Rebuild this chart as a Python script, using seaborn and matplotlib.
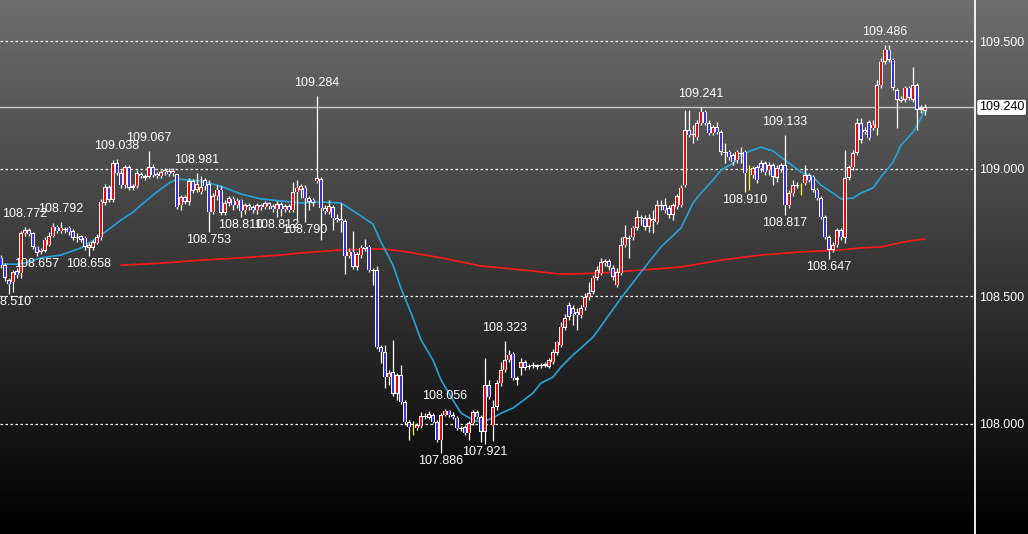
import matplotlib
matplotlib.use("Agg")
import matplotlib.pyplot as plt
from matplotlib.colors import LinearSegmentedColormap
import matplotlib.transforms as mtransforms
import seaborn as sns
import numpy as np
import pandas as pd

# candle data (USD/JPY style quotes), one entry per bar, oldest first
opens = [
    108.650, 108.621, 108.563, 108.555, 108.598, 108.590, 108.747, 108.759, 108.747, 108.693,
    108.673, 108.677, 108.700, 108.735, 108.771, 108.755, 108.763, 108.767, 108.755, 108.728,
    108.735, 108.728, 108.700, 108.689, 108.708, 108.731, 108.865, 108.927, 108.877, 109.021,
    108.982, 108.935, 109.006, 108.924, 108.931, 108.978, 108.970, 108.967, 109.006, 108.978,
    108.970, 108.986, 108.990, 108.982, 108.978, 108.857, 108.888, 108.869, 108.951, 108.916,
    108.908, 108.955, 108.939, 108.829, 108.892, 108.916, 108.826, 108.865, 108.881, 108.857,
    108.877, 108.837, 108.857, 108.849, 108.837, 108.857, 108.849, 108.865, 108.853, 108.841,
    108.861, 108.841, 108.853, 108.837, 108.908, 108.916, 108.924, 108.884, 108.877, 108.951,
    108.959, 108.845, 108.829, 108.849, 108.806, 108.802, 108.794, 108.657, 108.673, 108.614,
    108.661, 108.693, 108.693, 108.602, 108.602, 108.300, 108.280, 108.182, 108.202, 108.116,
    108.190, 108.084, 108.006, 107.990, 107.982, 107.990, 108.029, 108.022, 108.033, 108.006,
    107.935, 108.033, 108.050, 108.033, 108.022, 107.982, 107.986, 107.963, 108.002, 108.045,
    108.025, 107.967, 108.151, 107.994, 108.065, 108.159, 108.210, 108.249, 108.273, 108.178,
    108.218, 108.241, 108.222, 108.226, 108.229, 108.226, 108.226, 108.222, 108.241, 108.277,
    108.308, 108.375, 108.465, 108.453, 108.437, 108.425, 108.457, 108.496, 108.516, 108.571,
    108.590, 108.629, 108.637, 108.610, 108.543, 108.590, 108.700, 108.728, 108.731, 108.767,
    108.810, 108.806, 108.771, 108.794, 108.790, 108.857, 108.857, 108.845, 108.818, 108.849,
    108.857, 108.935, 109.151, 109.135, 109.123, 109.178, 109.222, 109.178, 109.139, 109.163,
    109.143, 109.065, 109.065, 109.053, 109.033, 109.061, 109.065, 108.963, 108.974, 109.006,
    109.021, 109.021, 108.994, 109.013, 108.963, 109.013, 109.013, 108.857, 108.904, 108.931,
    108.924, 108.943, 108.974, 108.967, 108.916, 108.884, 108.810, 108.731, 108.681, 108.700,
    108.759, 108.728, 108.963, 109.006, 109.061, 109.178, 109.143, 109.182, 109.159, 109.159,
    109.327, 109.418, 109.465, 109.426, 109.308, 109.273, 109.269, 109.316, 109.269, 109.327,
    109.230, 109.226,
]
closes = [
    108.621, 108.571, 108.547, 108.594, 108.582, 108.747, 108.759, 108.743, 108.693, 108.669,
    108.681, 108.720, 108.735, 108.771, 108.755, 108.767, 108.759, 108.751, 108.728, 108.731,
    108.720, 108.693, 108.689, 108.712, 108.731, 108.869, 108.927, 108.877, 109.021, 108.982,
    108.935, 109.006, 108.924, 108.931, 108.982, 108.970, 108.963, 109.006, 108.974, 108.970,
    108.986, 108.994, 108.978, 108.990, 108.849, 108.888, 108.869, 108.951, 108.912, 108.939,
    108.927, 108.931, 108.829, 108.892, 108.916, 108.826, 108.865, 108.884, 108.857, 108.873,
    108.833, 108.857, 108.849, 108.837, 108.857, 108.849, 108.865, 108.853, 108.841, 108.861,
    108.841, 108.853, 108.837, 108.908, 108.924, 108.931, 108.884, 108.869, 108.865, 108.963,
    108.845, 108.833, 108.853, 108.806, 108.798, 108.794, 108.657, 108.673, 108.614, 108.665,
    108.689, 108.685, 108.602, 108.598, 108.300, 108.280, 108.182, 108.198, 108.116, 108.190,
    108.084, 108.006, 107.986, 107.990, 107.994, 108.029, 108.025, 108.037, 108.006, 107.935,
    108.033, 108.050, 108.033, 108.025, 107.982, 107.978, 107.963, 108.002, 108.045, 108.025,
    107.967, 108.151, 108.104, 108.065, 108.159, 108.210, 108.249, 108.269, 108.178, 108.171,
    108.241, 108.218, 108.226, 108.229, 108.222, 108.229, 108.233, 108.249, 108.280, 108.320,
    108.379, 108.414, 108.418, 108.429, 108.425, 108.453, 108.496, 108.512, 108.571, 108.602,
    108.633, 108.637, 108.614, 108.575, 108.594, 108.700, 108.731, 108.724, 108.767, 108.810,
    108.806, 108.771, 108.806, 108.802, 108.857, 108.853, 108.837, 108.818, 108.857, 108.892,
    108.924, 109.151, 109.131, 109.131, 109.178, 109.222, 109.178, 109.139, 109.163, 109.143,
    109.065, 109.061, 109.045, 109.025, 109.065, 109.057, 108.982, 108.963, 109.002, 108.955,
    109.002, 108.986, 109.013, 108.967, 109.002, 108.998, 108.857, 108.904, 108.935, 108.935,
    108.924, 108.974, 108.955, 108.916, 108.884, 108.810, 108.731, 108.681, 108.700, 108.759,
    108.731, 108.963, 109.006, 109.061, 109.178, 109.112, 109.151, 109.119, 109.171, 109.327,
    109.418, 109.465, 109.426, 109.316, 109.269, 109.265, 109.316, 109.277, 109.327, 109.230,
    109.237, 109.240,
]
highs = [
    108.661, 108.629, 108.571, 108.602, 108.610, 108.755, 108.772, 108.767, 108.751, 108.697,
    108.689, 108.731, 108.751, 108.786, 108.778, 108.792, 108.771, 108.774, 108.763, 108.747,
    108.739, 108.735, 108.708, 108.720, 108.743, 108.881, 108.939, 108.935, 109.033, 109.038,
    108.994, 109.013, 109.013, 108.939, 108.994, 108.986, 108.978, 109.067, 109.017, 108.986,
    108.994, 109.002, 109.002, 109.002, 108.980, 108.896, 108.896, 108.963, 108.959, 108.981,
    108.970, 108.963, 108.955, 108.904, 108.935, 108.931, 108.877, 108.892, 108.892, 108.884,
    108.881, 108.865, 108.865, 108.857, 108.865, 108.861, 108.873, 108.869, 108.861, 108.873,
    108.869, 108.861, 108.861, 108.947, 108.955, 108.939, 108.935, 108.892, 108.884, 109.284,
    108.967, 108.857, 108.877, 108.857, 108.822, 108.865, 108.802, 108.689, 108.755, 108.673,
    108.700, 108.724, 108.700, 108.610, 108.618, 108.308, 108.308, 108.210, 108.328, 108.198,
    108.229, 108.092, 108.014, 108.010, 108.002, 108.045, 108.041, 108.049, 108.041, 108.014,
    108.041, 108.056, 108.052, 108.045, 108.029, 107.990, 107.994, 108.010, 108.053, 108.053,
    108.033, 108.257, 108.171, 108.092, 108.171, 108.241, 108.323, 108.288, 108.280, 108.186,
    108.257, 108.249, 108.233, 108.241, 108.233, 108.237, 108.241, 108.257, 108.292, 108.322,
    108.398, 108.429, 108.476, 108.465, 108.453, 108.465, 108.512, 108.555, 108.582, 108.618,
    108.649, 108.645, 108.645, 108.621, 108.610, 108.731, 108.778, 108.739, 108.774, 108.837,
    108.818, 108.818, 108.822, 108.837, 108.877, 108.877, 108.884, 108.857, 108.865, 108.900,
    108.935, 109.230, 109.230, 109.171, 109.190, 109.241, 109.230, 109.190, 109.171, 109.182,
    109.151, 109.100, 109.073, 109.061, 109.073, 109.084, 109.073, 109.013, 109.010, 109.013,
    109.033, 109.029, 109.025, 109.021, 109.013, 109.021, 109.133, 108.916, 108.955, 108.947,
    108.943, 109.013, 108.982, 108.974, 108.924, 108.892, 108.818, 108.739, 108.712, 108.767,
    108.767, 109.073, 109.013, 109.073, 109.198, 109.198, 109.163, 109.190, 109.190, 109.347,
    109.433, 109.486, 109.484, 109.433, 109.316, 109.284, 109.324, 109.324, 109.398, 109.335,
    109.249, 109.253,
]
lows = [
    108.610, 108.559, 108.510, 108.516, 108.571, 108.571, 108.735, 108.735, 108.685, 108.657,
    108.665, 108.673, 108.697, 108.731, 108.747, 108.747, 108.747, 108.739, 108.720, 108.712,
    108.712, 108.681, 108.658, 108.681, 108.704, 108.720, 108.857, 108.869, 108.869, 108.974,
    108.924, 108.924, 108.916, 108.916, 108.924, 108.963, 108.955, 108.963, 108.967, 108.963,
    108.963, 108.974, 108.970, 108.970, 108.841, 108.837, 108.861, 108.857, 108.904, 108.908,
    108.900, 108.916, 108.753, 108.822, 108.877, 108.818, 108.818, 108.853, 108.837, 108.845,
    108.810, 108.822, 108.837, 108.826, 108.822, 108.837, 108.841, 108.841, 108.829, 108.812,
    108.814, 108.829, 108.829, 108.829, 108.798, 108.884, 108.790, 108.837, 108.853, 108.943,
    108.720, 108.822, 108.822, 108.759, 108.790, 108.751, 108.586, 108.650, 108.606, 108.602,
    108.650, 108.677, 108.594, 108.543, 108.292, 108.237, 108.139, 108.151, 108.108, 108.092,
    108.076, 107.994, 107.935, 107.955, 107.975, 107.982, 108.018, 108.018, 108.002, 107.927,
    107.886, 108.029, 108.025, 108.018, 107.975, 107.971, 107.955, 107.935, 107.994, 108.018,
    107.927, 107.921, 108.096, 107.930, 108.053, 108.147, 108.202, 108.241, 108.171, 108.151,
    108.190, 108.210, 108.214, 108.218, 108.214, 108.218, 108.222, 108.218, 108.233, 108.269,
    108.300, 108.367, 108.406, 108.386, 108.367, 108.414, 108.445, 108.484, 108.508, 108.563,
    108.582, 108.618, 108.602, 108.563, 108.535, 108.582, 108.693, 108.650, 108.720, 108.759,
    108.778, 108.759, 108.751, 108.747, 108.782, 108.837, 108.826, 108.806, 108.798, 108.841,
    108.849, 108.927, 109.123, 109.100, 109.112, 109.171, 109.171, 109.131, 109.131, 109.135,
    109.053, 109.021, 109.033, 109.013, 109.021, 109.021, 108.910, 108.916, 108.963, 108.943,
    108.986, 108.974, 108.974, 108.935, 108.947, 108.986, 108.817, 108.845, 108.892, 108.924,
    108.896, 108.935, 108.947, 108.908, 108.877, 108.802, 108.724, 108.647, 108.673, 108.693,
    108.720, 108.708, 108.955, 108.994, 109.053, 109.100, 109.135, 109.112, 109.151, 109.131,
    109.316, 109.410, 109.418, 109.308, 109.159, 109.261, 109.261, 109.269, 109.261, 109.151,
    109.218, 109.210,
]

# short moving average (blue), read at bar numbers
ma_short_bar = [0, 5, 10, 15, 20, 25, 30, 33, 35, 38, 40, 42, 44, 47, 50, 55, 60, 65, 70, 75,
                80, 85, 87, 90, 93, 95, 98, 100, 103, 105, 108, 110, 113, 115, 118, 120, 123, 125,
                128, 130, 133, 135, 138, 140, 143, 145, 148, 150, 155, 160, 165, 170, 173, 175,
                178, 180, 183, 185, 188, 190, 193, 195, 198, 200, 203, 205, 208, 210, 213, 215,
                218, 220, 223, 225, 228, 230, 231]
ma_short = [108.625, 108.625, 108.650, 108.661, 108.689, 108.739, 108.798, 108.829, 108.857,
            108.896, 108.920, 108.943, 108.959, 108.955, 108.951, 108.931, 108.900, 108.881,
            108.873, 108.865, 108.869, 108.865, 108.845, 108.814, 108.782, 108.712, 108.621,
            108.531, 108.414, 108.328, 108.249, 108.171, 108.092, 108.041, 108.014, 108.006,
            108.022, 108.041, 108.061, 108.084, 108.120, 108.159, 108.182, 108.222, 108.269,
            108.296, 108.339, 108.382, 108.492, 108.594, 108.693, 108.767, 108.865, 108.904,
            108.955, 108.994, 109.021, 109.053, 109.073, 109.084, 109.069, 109.045, 109.010,
            108.986, 108.967, 108.935, 108.904, 108.881, 108.884, 108.904, 108.924, 108.967,
            109.025, 109.092, 109.143, 109.198, 109.233]

# long moving average (red)
ma_long_bar = [30, 40, 50, 60, 70, 75, 85, 95, 100, 110, 120, 128, 133, 140, 150, 160, 170,
               180, 190, 200, 210, 215, 220, 227, 231]
ma_long = [108.621, 108.629, 108.641, 108.650, 108.661, 108.669, 108.681, 108.685, 108.677,
           108.650, 108.618, 108.606, 108.598, 108.586, 108.590, 108.602, 108.614, 108.641,
           108.661, 108.673, 108.681, 108.689, 108.693, 108.716, 108.724]

grid_levels = [108.0, 108.5, 109.0, 109.5]
last_price = closes[-1]

# labelled swing points: (bar, 'high' or 'low')
swing_points = [(2, "low"), (6, "high"), (9, "low"), (15, "high"), (22, "low"), (29, "high"),
                (37, "high"), (49, "high"), (52, "low"), (60, "low"), (69, "low"), (76, "low"),
                (79, "high"), (110, "low"), (111, "high"), (121, "low"), (126, "high"),
                (175, "high"), (186, "low"), (196, "high"), (196, "low"), (207, "low"),
                (221, "high")]

df = pd.DataFrame({"open": opens, "close": closes, "high": highs, "low": lows})
df["bar"] = np.arange(len(df))
df["high"] = np.maximum(df["high"], df[["open", "close"]].max(axis=1))
df["low"] = np.minimum(df["low"], df[["open", "close"]].min(axis=1))

sns.set_theme(style="dark")
plt.rcParams["font.family"] = ["Liberation Sans", "DejaVu Sans"]

W, H = 1028, 534
fig = plt.figure(figsize=(W / 100, H / 100), dpi=100)

# background gradient over the whole picture
bg = fig.add_axes([0, 0, 1, 1])
grad = np.linspace(1, 0, 256).reshape(-1, 1)
cmap = LinearSegmentedColormap.from_list("bg", ["#000000", "#6e6e6e"])
bg.imshow(grad, aspect="auto", cmap=cmap, extent=[0, 1, 0, 1], origin="upper")
bg.set_axis_off()

ax = fig.add_axes([0, 0, 975 / W, 1])
ax.patch.set_alpha(0)
ax.set_xlim(-0.25, 243.5)
ax.set_ylim(107.567, 109.661)

for lv in grid_levels:
    ax.axhline(lv, color="white", lw=0.9, ls=(0, (2, 2)), zorder=1)
ax.axhline(last_price, color="#c8c8c8", lw=1.0, zorder=1)

# moving averages
sns.lineplot(x=ma_long_bar, y=ma_long, ax=ax, color="#ff1a1a", lw=1.2, zorder=2)
sns.lineplot(x=ma_short_bar, y=ma_short, ax=ax, color="#22a6dd", lw=1.2, zorder=2)

# candles: white wick, white outer body, coloured inner body
doji = (df["close"] - df["open"]).abs() < 0.0005
up = df["close"] > df["open"]
wick_col = np.where(doji, "#ffff00", "white")
ax.vlines(df["bar"], df["low"], df["high"], colors=wick_col, lw=0.9, zorder=3)

body = df[~doji]
span = (body["close"] - body["open"]).abs()
outer_h = span.clip(lower=0.004)
bottoms = body[["open", "close"]].min(axis=1)
ax.bar(body["bar"], outer_h, bottom=bottoms, width=0.92, color="white",
       linewidth=0, zorder=4)
inner_h = (span - 0.004).clip(lower=0)
body_col = np.where(up[~doji], "#ff0000", "#3a2cff")
ax.bar(body["bar"], inner_h, bottom=bottoms + 0.002, width=0.45, color=body_col,
       linewidth=0, zorder=5)

# swing labels
for bar, kind in swing_points:
    if kind == "high":
        v = df.loc[bar, "high"]
        off = 13
    else:
        v = df.loc[bar, "low"]
        off = -8
    ax.annotate(f"{v:.3f}", xy=(bar, v), xytext=(0, off), textcoords="offset pixels",
                ha="center", va="center", color="white", fontsize=9, zorder=6)

# price axis on the right
ax.yaxis.tick_right()
ax.set_yticks(grid_levels)
ax.set_yticklabels([f"{v:.3f}" for v in grid_levels])
ax.tick_params(axis="y", length=0, pad=3, labelcolor="white", labelsize=9)
ax.set_xticks([])
ax.set_xlabel("")
ax.set_ylabel("")
for s in ["top", "left", "bottom"]:
    ax.spines[s].set_visible(False)
ax.spines["right"].set_color("white")
ax.spines["right"].set_linewidth(1.3)
ax.grid(False)

trans = mtransforms.blended_transform_factory(ax.transAxes, ax.transData)
ax.text(1.004, last_price, f"{last_price:.3f}", transform=trans, ha="left", va="center",
        color="black", fontsize=9, zorder=7,
        bbox=dict(boxstyle="round,pad=0.18", fc="white", ec="#444444", lw=0.8))

fig.savefig("out.png", dpi=100)
